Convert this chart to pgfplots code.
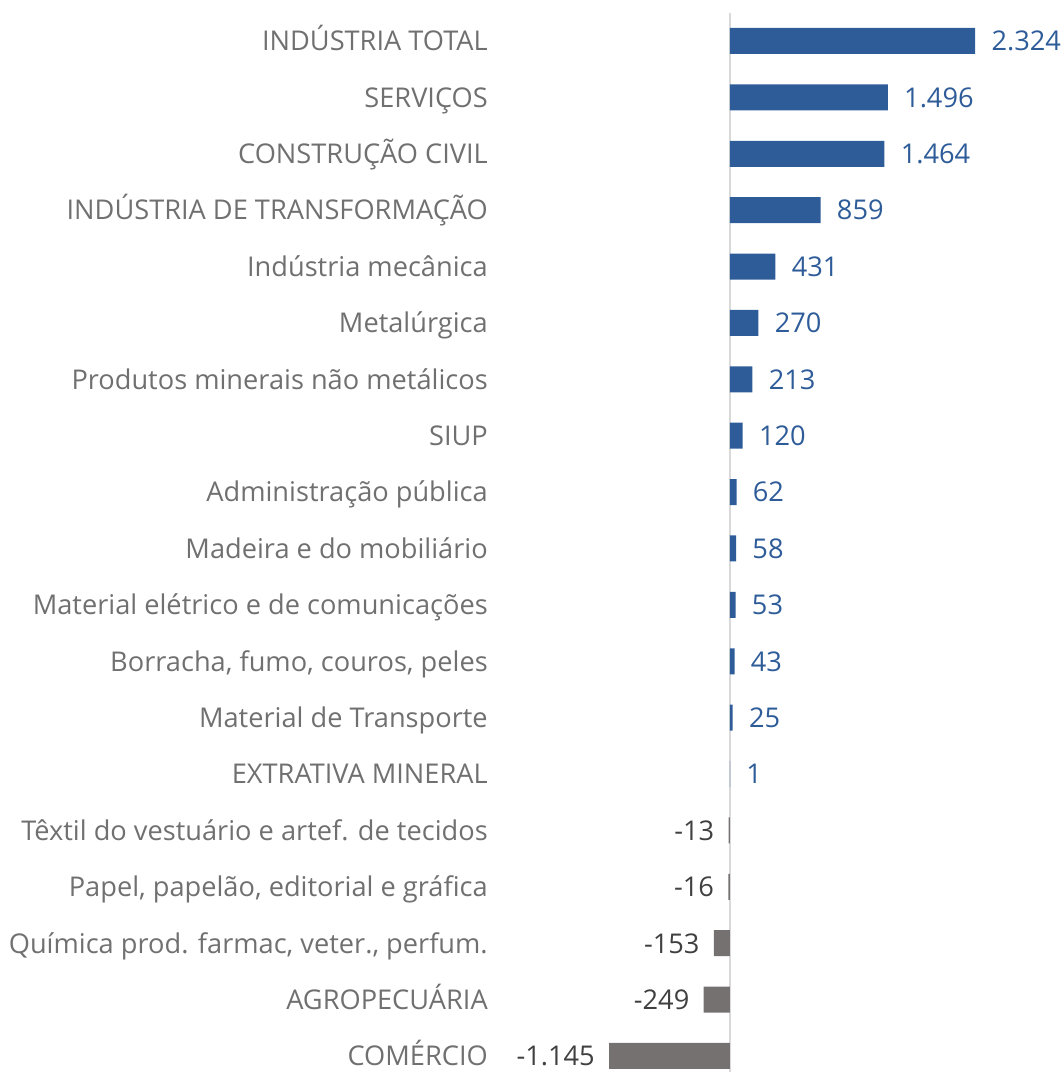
\documentclass[border=0pt]{standalone}
\usepackage{pgfplots}
\pgfplotsset{compat=1.18}
\usepackage{fontspec}
\setmainfont{Open Sans}
\definecolor{barblue}{HTML}{2E5C99}
\definecolor{bargrey}{HTML}{767171}
\definecolor{labgrey}{HTML}{707070}
\definecolor{neglab}{HTML}{404040}
\begin{document}
\begin{tikzpicture}
\begin{axis}[
  scale only axis,
  width=183pt, height=535.7pt,
  xmin=-1145, xmax=2324,
  ymin=-0.5, ymax=18.5,
  xbar, bar width=13pt, bar shift=0pt,
  axis line style={draw=none},
  xtick=\empty,
  major tick length=0pt,
  ytick={0,...,18},
  yticklabels={COMÉRCIO,AGROPECUÁRIA,{Química prod. farmac, veter., perfum.},{Papel, papelão, editorial e gráfica},Têxtil do vestuário e artef. de tecidos,EXTRATIVA MINERAL,Material de Transporte,{Borracha, fumo, couros, peles},Material elétrico e de comunicações,Madeira e do mobiliário,Administração pública,SIUP,Produtos minerais não metálicos,Metalúrgica,Indústria mecânica,INDÚSTRIA DE TRANSFORMAÇÃO,CONSTRUÇÃO CIVIL,SERVIÇOS,INDÚSTRIA TOTAL},
  yticklabel style={anchor=base east, inner sep=0pt, xshift=-60.5pt, yshift=-4.9pt, font=\fontsize{13.6}{16}\selectfont, text=labgrey},
  point meta=explicit symbolic,
  nodes near coords,
  clip=false,
]
\draw[color=black!15, line width=1pt] (axis cs:0,18.5) -- (axis cs:0,-0.5);
\addplot[fill=barblue, draw=none,
  nodes near coords style={anchor=base west, inner sep=0pt, xshift=8pt, yshift=-4.9pt, font=\fontsize{13.6}{16}\selectfont, text=barblue}]
  coordinates {
  (2324,18) [2.324]
  (1496,17) [1.496]
  (1464,16) [1.464]
  (859,15) [859]
  (431,14) [431]
  (270,13) [270]
  (213,12) [213]
  (120,11) [120]
  (62,10) [62]
  (58,9) [58]
  (53,8) [53]
  (43,7) [43]
  (25,6) [25]
  (1,5) [1]
  };
\addplot[fill=bargrey, draw=none,
  nodes near coords style={anchor=base east, inner sep=0pt, xshift=-7pt, yshift=-4.9pt, font=\fontsize{13.6}{16}\selectfont, text=neglab}]
  coordinates {
  (-13,4) [-13]
  (-16,3) [-16]
  (-153,2) [-153]
  (-249,1) [-249]
  (-1145,0) [-1.145]
  };
\coordinate (bl) at (axis cs:-6919,-0.284);
\coordinate (tr) at (axis cs:3156,18.727);
\end{axis}
\pgfresetboundingbox
\path (bl) rectangle (tr);
\end{tikzpicture}
\end{document}
